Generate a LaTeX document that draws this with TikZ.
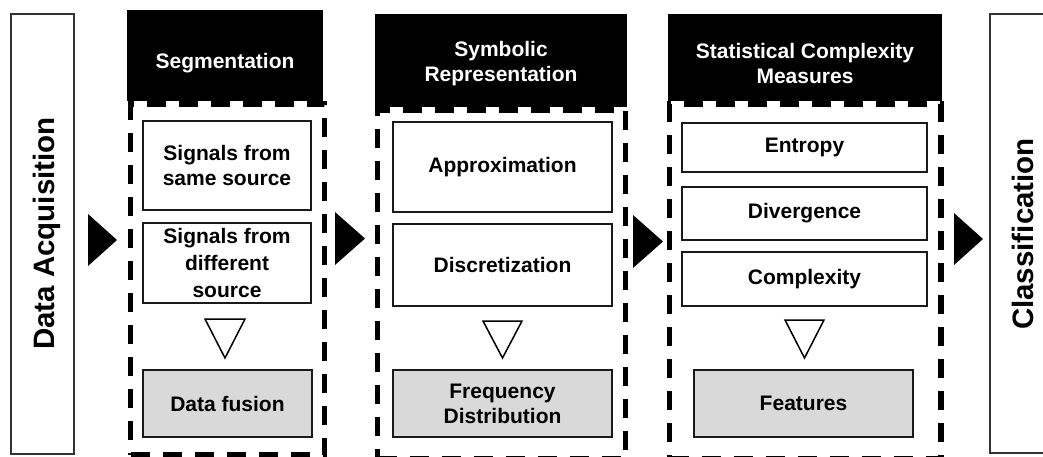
\documentclass[tikz,border=0pt]{standalone}
\usepackage{fontspec}
\setmainfont{Liberation Sans}
\definecolor{boxgray}{HTML}{D9D9D9}
\definecolor{edge}{HTML}{1A1A1A}
\definecolor{sideedge}{HTML}{333333}
\begin{document}
\begin{tikzpicture}[x=1pt,y=-1pt,
  ibox/.style={draw=edge, line width=1.8pt, fill=white, inner sep=0pt, outer sep=0pt,
    align=center, text=black, font=\bfseries\fontsize{21}{25}\selectfont},
  gbox/.style={ibox, fill=boxgray},
  hdr/.style={fill=black, draw=none, inner sep=0pt, outer sep=0pt},
  htxt/.style={text=white, align=center, inner sep=0pt, font=\bfseries\fontsize{21}{25}\selectfont},
  dbox/.style={draw=black, line width=5.5pt, dash pattern=on 19pt off 13pt, inner sep=0pt, outer sep=0pt},
  sbox/.style={draw=sideedge, line width=1.8pt, inner sep=0pt, outer sep=0pt},
  stxt/.style={rotate=90, inner sep=0pt, font=\bfseries\fontsize{29.5}{32}\selectfont},
  tri/.style={draw=black, line width=1.5pt, fill=white, line join=miter},
  arr/.style={fill=black}]
\useasboundingbox (0,0) rectangle (1043,456);

% side boxes
\node[sbox, minimum width=63pt, minimum height=440pt] (da) at (42.5,234) {};
\node[stxt] (dat) at (47.3,233.5) {Data Acquisition};
\node[sbox, minimum width=56pt, minimum height=439pt] (cl) at (1018,233.5) {};
\node[stxt] (clt) at (1023,234) {Classification};

% dashed frames
\node[dbox, minimum width=194pt, minimum height=351pt] (d1) at (227.5,279.5) {};
\node[dbox, minimum width=248pt, minimum height=348.5pt] (d2) at (501.5,284) {};
\node[dbox, minimum width=271.5pt, minimum height=354.5pt] (d3) at (805.25,281.25) {};

% headers
\node[hdr, minimum width=196pt, minimum height=91pt] (h1) at (225,55.5) {};
\node[htxt] (h1t) at (225,63.5) {Segmentation};
\node[hdr, minimum width=252pt, minimum height=93pt] (h2) at (501,60.5) {};
\node[htxt] (h2t) at (501,64) {Symbolic\\Representation};
\node[hdr, minimum width=274pt, minimum height=87pt] (h3) at (805,57.5) {};
\node[htxt] (h3t) at (805,63.7) {Statistical Complexity\\Measures};

% panel 1
\node[ibox, minimum width=168pt, minimum height=89pt] (s1a) at (227,165.5) {Signals from\\same source};
\node[ibox, minimum width=168pt, minimum height=80pt] (s1b) at (227,263) {Signals from\\[2pt]different\\[2pt]source};
\node[gbox, minimum width=169pt, minimum height=67pt] (g1) at (227.5,403.5) {Data fusion};
\draw[tri] (205,319) -- (245,319) -- (225,358) -- cycle;

% panel 2
\node[ibox, minimum width=219pt, minimum height=90pt] (s2a) at (502.5,167) {Approximation};
\node[ibox, minimum width=219pt, minimum height=82pt] (s2b) at (502.5,265) {Discretization};
\node[gbox, minimum width=219pt, minimum height=67pt] (g2) at (502.5,403.5) {Frequency\\Distribution};
\draw[tri] (483,321) -- (522,321) -- (502.5,358) -- cycle;

% panel 3
\node[ibox, minimum width=245pt, minimum height=49pt] (s3a) at (804.5,147.5) {Entropy};
\node[ibox, minimum width=245pt, minimum height=53pt] (s3b) at (804.5,213.5) {Divergence};
\node[ibox, minimum width=245pt, minimum height=54pt] (s3c) at (804.5,279) {Complexity};
\node[gbox, minimum width=219pt, minimum height=67pt] (g3) at (803.5,403.5) {Features};
\draw[tri] (785,320) -- (824,320) -- (804.5,358) -- cycle;

% stage arrows
\fill[arr] (88,214) -- (117,240) -- (88,266) -- cycle;
\fill[arr] (335,212) -- (365,238.5) -- (335,265) -- cycle;
\fill[arr] (633,215) -- (663,241.5) -- (633,268) -- cycle;
\fill[arr] (954,213) -- (983,239) -- (954,265) -- cycle;
\end{tikzpicture}
\end{document}
